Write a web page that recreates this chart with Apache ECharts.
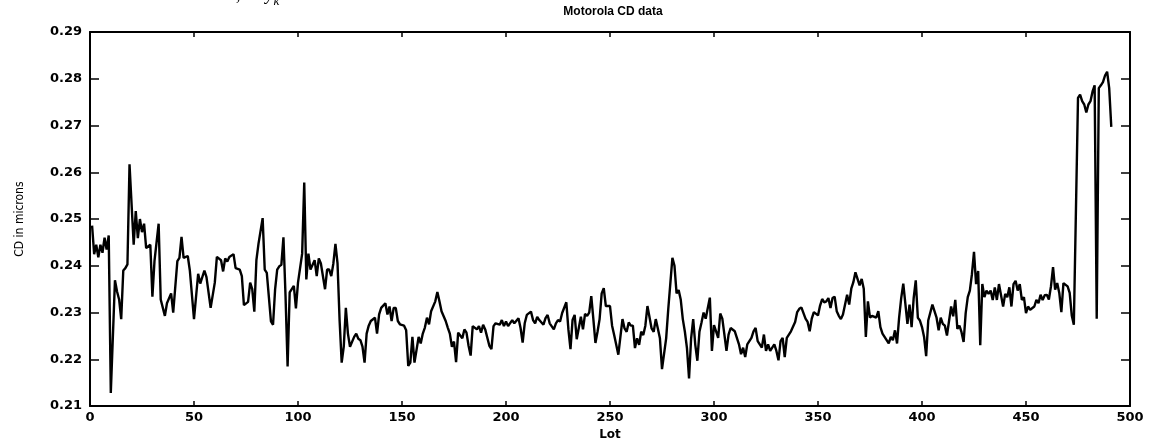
<!DOCTYPE html>
<html>
<head>
<meta charset="utf-8">
<title>Motorola CD data</title>
<script src="https://cdn.jsdelivr.net/npm/echarts@6/dist/echarts.min.js"></script>
<style>
html, body { margin: 0; padding: 0; background: #fff; }
#chart { width: 1149px; height: 446px; }
</style>
</head>
<body>
<div id="chart"></div>
<script>
// lot numbers and CD readings (microns)
var lots = [
    1, 2, 3, 4, 5, 6, 7, 8, 9, 10, 12, 13, 14, 15, 16, 17, 18, 19, 21, 22,
    23, 24, 25, 26, 27, 29, 30, 31, 33, 34, 36, 37, 39, 40, 42, 43, 44, 45, 47, 48,
    50, 52, 53, 55, 56, 58, 60, 61, 63, 64, 65, 66, 67, 69, 70, 72, 73, 74, 76, 77,
    78, 79, 80, 81, 83, 84, 85, 87, 88, 89, 90, 91, 92, 93, 94, 95, 96, 98, 99, 100,
    102, 103, 104, 105, 106, 108, 109, 110, 111, 113, 114, 115, 116, 117, 118, 119, 120, 121, 122, 123,
    124, 125, 127, 128, 129, 130, 131, 132, 133, 134, 135, 137, 138, 139, 140, 142, 143, 144, 145, 146,
    147, 148, 149, 151, 152, 153, 154, 155, 156, 158, 159, 160, 161, 162, 163, 164, 166, 167, 168, 169,
    171, 172, 173, 174, 175, 176, 177, 179, 180, 181, 182, 183, 184, 186, 187, 188, 189, 190, 192, 193,
    194, 195, 197, 198, 199, 200, 201, 203, 204, 206, 207, 208, 209, 210, 212, 213, 214, 215, 216, 218,
    219, 220, 221, 223, 224, 225, 226, 227, 229, 230, 231, 232, 233, 234, 236, 237, 238, 239, 240, 241,
    242, 243, 244, 245, 246, 247, 248, 250, 251, 252, 253, 254, 256, 257, 258, 259, 260, 261, 262, 263,
    264, 265, 266, 267, 268, 270, 271, 272, 273, 274, 275, 277, 278, 279, 280, 281, 282, 283, 284, 285,
    286, 287, 288, 289, 290, 291, 292, 293, 294, 295, 296, 298, 299, 300, 301, 302, 303, 304, 305, 306,
    307, 308, 310, 311, 312, 313, 314, 315, 316, 318, 319, 320, 321, 323, 324, 325, 326, 327, 329, 330,
    331, 332, 333, 334, 335, 336, 337, 339, 340, 341, 342, 344, 345, 346, 347, 348, 350, 351, 352, 353,
    354, 355, 356, 357, 358, 359, 360, 361, 362, 364, 365, 366, 367, 368, 369, 370, 371, 372, 373, 374,
    375, 376, 378, 379, 380, 381, 382, 384, 385, 386, 387, 388, 389, 390, 391, 393, 394, 395, 396, 397,
    398, 399, 400, 401, 402, 403, 405, 406, 407, 408, 409, 410, 411, 412, 414, 415, 416, 417, 418, 419,
    420, 421, 422, 423, 424, 425, 426, 427, 428, 429, 430, 431, 432, 433, 434, 435, 436, 437, 439, 440,
    441, 442, 443, 444, 445, 446, 447, 448, 449, 450, 451, 452, 454, 455, 456, 457, 458, 459, 460, 461,
    462, 463, 464, 465, 466, 467, 468, 470, 471, 472, 473, 475, 476, 477, 478, 479, 480, 481, 482, 483,
    484, 485, 486, 487, 488, 489, 490, 491
];
var cd = [
    0.2486, 0.2425, 0.2445, 0.2418, 0.2445, 0.2428, 0.2460, 0.2435, 0.2465, 0.2128, 0.2369, 0.2345, 0.2328, 0.2286, 0.2390, 0.2395, 0.2403, 0.2617, 0.2445, 0.2517,
    0.2459, 0.2500, 0.2472, 0.2490, 0.2438, 0.2445, 0.2334, 0.2410, 0.2490, 0.2328, 0.2293, 0.2320, 0.2341, 0.2300, 0.2410, 0.2417, 0.2462, 0.2417, 0.2421, 0.2390,
    0.2286, 0.2383, 0.2362, 0.2390, 0.2376, 0.2310, 0.2364, 0.2419, 0.2412, 0.2388, 0.2416, 0.2409, 0.2419, 0.2425, 0.2395, 0.2392, 0.2378, 0.2316, 0.2323, 0.2364,
    0.2350, 0.2302, 0.2412, 0.2447, 0.2502, 0.2392, 0.2385, 0.2281, 0.2274, 0.2350, 0.2392, 0.2399, 0.2402, 0.2461, 0.2336, 0.2185, 0.2343, 0.2357, 0.2309, 0.2364,
    0.2426, 0.2578, 0.2371, 0.2426, 0.2392, 0.2412, 0.2378, 0.2416, 0.2405, 0.2350, 0.2392, 0.2392, 0.2378, 0.2405, 0.2447, 0.2405, 0.2283, 0.2193, 0.2227, 0.2310,
    0.2255, 0.2227, 0.2248, 0.2255, 0.2244, 0.2241, 0.2227, 0.2193, 0.2255, 0.2272, 0.2282, 0.2289, 0.2255, 0.2296, 0.2310, 0.2320, 0.2296, 0.2313, 0.2282, 0.2310,
    0.2310, 0.2282, 0.2275, 0.2272, 0.2262, 0.2186, 0.2193, 0.2248, 0.2193, 0.2248, 0.2234, 0.2255, 0.2268, 0.2289, 0.2275, 0.2303, 0.2324, 0.2344, 0.2324, 0.2303,
    0.2282, 0.2268, 0.2255, 0.2227, 0.2238, 0.2194, 0.2257, 0.2245, 0.2264, 0.2257, 0.2229, 0.2208, 0.2271, 0.2264, 0.2271, 0.2257, 0.2274, 0.2264, 0.2229, 0.2222,
    0.2271, 0.2277, 0.2274, 0.2284, 0.2271, 0.2281, 0.2271, 0.2284, 0.2277, 0.2288, 0.2267, 0.2236, 0.2277, 0.2295, 0.2302, 0.2284, 0.2277, 0.2291, 0.2284, 0.2274,
    0.2288, 0.2295, 0.2277, 0.2264, 0.2277, 0.2284, 0.2281, 0.2299, 0.2322, 0.2264, 0.2222, 0.2284, 0.2295, 0.2243, 0.2291, 0.2264, 0.2297, 0.2293, 0.2300, 0.2335,
    0.2286, 0.2235, 0.2259, 0.2286, 0.2341, 0.2352, 0.2314, 0.2314, 0.2272, 0.2252, 0.2231, 0.2210, 0.2286, 0.2266, 0.2259, 0.2279, 0.2272, 0.2272, 0.2224, 0.2245,
    0.2231, 0.2259, 0.2252, 0.2272, 0.2314, 0.2266, 0.2259, 0.2286, 0.2266, 0.2245, 0.2179, 0.2245, 0.2307, 0.2362, 0.2417, 0.2400, 0.2341, 0.2348, 0.2328, 0.2286,
    0.2259, 0.2224, 0.2159, 0.2245, 0.2286, 0.2231, 0.2197, 0.2259, 0.2279, 0.2300, 0.2287, 0.2332, 0.2218, 0.2273, 0.2260, 0.2246, 0.2298, 0.2287, 0.2253, 0.2218,
    0.2253, 0.2267, 0.2260, 0.2246, 0.2232, 0.2211, 0.2225, 0.2205, 0.2232, 0.2246, 0.2260, 0.2267, 0.2239, 0.2225, 0.2253, 0.2218, 0.2232, 0.2218, 0.2232, 0.2218,
    0.2198, 0.2239, 0.2246, 0.2205, 0.2246, 0.2253, 0.2260, 0.2280, 0.2301, 0.2308, 0.2311, 0.2287, 0.2280, 0.2260, 0.2287, 0.2301, 0.2294, 0.2315, 0.2329, 0.2322,
    0.2324, 0.2331, 0.2310, 0.2331, 0.2334, 0.2303, 0.2293, 0.2286, 0.2296, 0.2338, 0.2317, 0.2351, 0.2365, 0.2386, 0.2372, 0.2358, 0.2372, 0.2351, 0.2248, 0.2324,
    0.2289, 0.2293, 0.2289, 0.2303, 0.2269, 0.2255, 0.2248, 0.2234, 0.2248, 0.2241, 0.2262, 0.2234, 0.2289, 0.2331, 0.2362, 0.2276, 0.2317, 0.2269, 0.2331, 0.2369,
    0.2289, 0.2283, 0.2269, 0.2248, 0.2207, 0.2283, 0.2317, 0.2303, 0.2289, 0.2262, 0.2289, 0.2276, 0.2272, 0.2251, 0.2313, 0.2292, 0.2327, 0.2265, 0.2272, 0.2258,
    0.2237, 0.2299, 0.2333, 0.2347, 0.2382, 0.2430, 0.2361, 0.2389, 0.2230, 0.2361, 0.2333, 0.2347, 0.2340, 0.2347, 0.2327, 0.2354, 0.2327, 0.2361, 0.2313, 0.2340,
    0.2333, 0.2354, 0.2313, 0.2361, 0.2368, 0.2347, 0.2361, 0.2327, 0.2333, 0.2299, 0.2313, 0.2306, 0.2313, 0.2327, 0.2320, 0.2338, 0.2327, 0.2337, 0.2338, 0.2328,
    0.2356, 0.2397, 0.2349, 0.2363, 0.2342, 0.2301, 0.2363, 0.2356, 0.2342, 0.2294, 0.2274, 0.2759, 0.2766, 0.2752, 0.2745, 0.2728, 0.2745, 0.2752, 0.2773, 0.2786,
    0.2287, 0.2780, 0.2786, 0.2793, 0.2807, 0.2815, 0.2780, 0.2697
];

// axis ranges / tick steps
var xRange = [0, 500];
var xStep = 50;
var yRange = [0.21, 0.29];
var yStep = 0.01;

var labelFont = {
    color: '#000',
    fontFamily: 'DejaVu Sans',
    fontWeight: 'bold',
    fontSize: 13
};

var chart = echarts.init(document.getElementById('chart'));

var points = [];
for (var i = 0; i < lots.length; i++) {
    points.push([lots[i], cd[i]]);
}

function axisBase(extra) {
    var a = {
        type: 'value',
        axisLine: { show: true, onZero: false, lineStyle: { color: '#000', width: 2 } },
        splitLine: { show: false }
    };
    for (var k in extra) a[k] = extra[k];
    return a;
}

var option = {
    backgroundColor: '#fff',
    animation: false,
    title: {
        text: 'Motorola CD data',
        left: 608,
        top: 1,
        textAlign: 'center',
        textStyle: {
            color: '#000',
            fontFamily: 'Liberation Sans',
            fontWeight: 'bold',
            fontSize: 12
        }
    },
    graphic: [{
        type: 'text',
        left: 236,
        top: -14,
        style: {
            text: '{a|, so y}{b|k}',
            rich: {
                a: { fontFamily: 'Liberation Serif', fontStyle: 'italic', fontSize: 18, fill: '#000' },
                b: { fontFamily: 'Liberation Serif', fontStyle: 'italic', fontSize: 13, fill: '#000', padding: [14, 0, 0, 0] }
            }
        }
    }],
    grid: {
        left: 90,
        right: 19,
        top: 32,
        bottom: 24
    },
    xAxis: [
        axisBase({
            position: 'bottom',
            min: xRange[0],
            max: xRange[1],
            interval: xStep,
            axisTick: { inside: true, length: 5, lineStyle: { color: '#000', width: 1.5 } },
            axisLabel: Object.assign({ margin: 5 }, labelFont),
            name: 'Lot',
            nameLocation: 'middle',
            nameGap: 18,
            nameTextStyle: {
                color: '#000',
                fontFamily: 'DejaVu Sans',
                fontWeight: 'bold',
                fontSize: 12
            }
        }),
        axisBase({
            position: 'top',
            min: xRange[0],
            max: xRange[1],
            interval: xStep,
            axisTick: { inside: true, length: 5, lineStyle: { color: '#000', width: 1.5 } },
            axisLabel: { show: false }
        })
    ],
    yAxis: [
        axisBase({
            position: 'left',
            min: yRange[0],
            max: yRange[1],
            interval: yStep,
            axisTick: { inside: true, length: 9, lineStyle: { color: '#000', width: 1.5 } },
            axisLabel: Object.assign({
                margin: 8,
                formatter: function (v) { return v.toFixed(2); }
            }, labelFont),
            name: 'CD in microns',
            nameLocation: 'middle',
            nameGap: 64,
            nameRotate: 90,
            nameTextStyle: {
                color: '#000',
                fontFamily: 'DejaVu Sans Condensed',
                fontSize: 12
            }
        }),
        axisBase({
            position: 'right',
            min: yRange[0],
            max: yRange[1],
            interval: yStep,
            axisTick: { inside: true, length: 9, lineStyle: { color: '#000', width: 1.5 } },
            axisLabel: { show: false }
        })
    ],
    series: [{
        type: 'line',
        xAxisIndex: 0,
        yAxisIndex: 0,
        data: points,
        showSymbol: false,
        symbol: 'none',
        lineStyle: { color: '#000', width: 2.4 }
    }]
};

chart.setOption(option);
</script>
</body>
</html>
